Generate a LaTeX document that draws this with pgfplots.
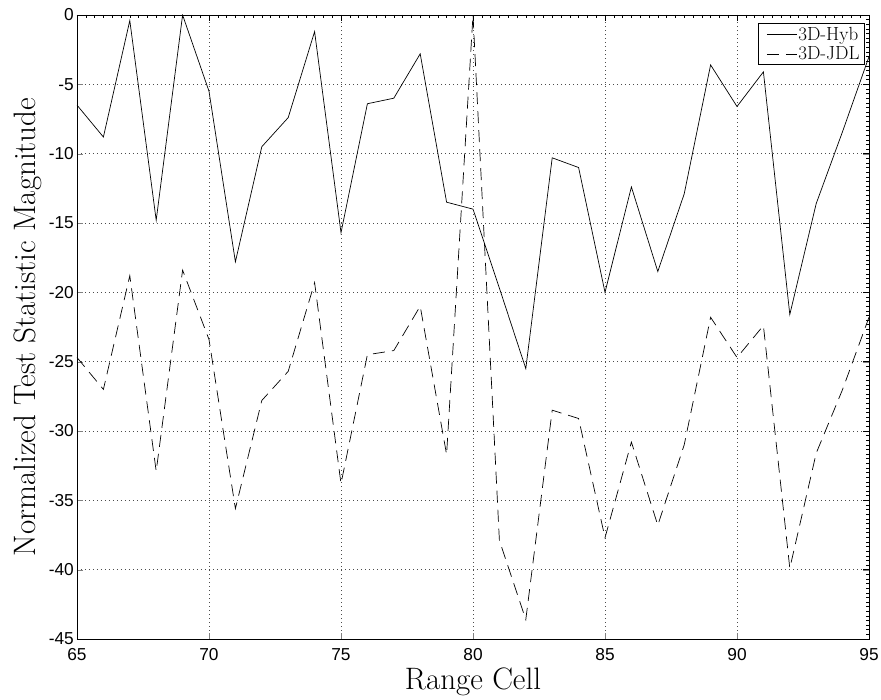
\documentclass[border=0pt]{standalone}
\usepackage{fontspec}
\setsansfont{Liberation Sans}
\usepackage{pgfplots}
\pgfplotsset{compat=1.18}
\begin{document}
\begin{tikzpicture}
\begin{axis}[
  scale only axis,
  width=792pt, height=624pt,
  xmin=65, xmax=95, ymin=-45, ymax=0,
  xtick={65,70,...,95}, ytick={-45,-40,...,0},
  tick align=inside,
  major tick length=6pt,
  grid=major,
  major grid style={black!70, line width=0.5pt, dash pattern=on 0.8pt off 3.2pt},
  axis line style={line width=0.9pt},
  /pgf/number format/assume math mode=true,
  ticklabel style={font=\sffamily\fontsize{17.3}{19}\selectfont},
  xticklabel style={inner sep=0pt, yshift=-9pt},
  yticklabel style={inner sep=0pt, xshift=-3pt},
  xlabel={Range Cell},
  ylabel={Normalized Test Statistic Magnitude},
  label style={font=\fontsize{31}{34}\selectfont, inner sep=0pt},
  xlabel style={at={(axis description cs:0.5,0)}, anchor=north, yshift=-29pt},
  ylabel style={at={(axis description cs:0,0.5)}, anchor=south, yshift=35pt},
  legend style={at={(1,1)}, anchor=north east, xshift=-4pt, yshift=-8pt,
    font=\fontsize{19}{21}\selectfont, draw=black, line width=0.9pt,
    inner xsep=4pt, inner ysep=3pt, row sep=4pt, column sep=0pt,
    nodes={inner xsep=1pt, inner ysep=0.5pt}, cells={anchor=west}},
  legend image code/.code={\path (0pt,0pt); \draw[#1, line width=0.7pt] (4pt,0pt) -- (34pt,0pt);},
]
\addplot[black, line width=0.7pt] coordinates {
(65,-6.5) (66,-8.8) (67,-0.4) (68,-14.8) (69,0) (70,-5.5) (71,-17.8) (72,-9.5)
(73,-7.4) (74,-1.2) (75,-15.7) (76,-6.4) (77,-6.0) (78,-2.8) (79,-13.5) (80,-14.0)
(81,-19.7) (82,-25.5) (83,-10.3) (84,-11.0) (85,-20.0) (86,-12.4) (87,-18.5) (88,-12.9)
(89,-3.6) (90,-6.6) (91,-4.1) (92,-21.6) (93,-13.6) (94,-8.4) (95,-3.0)
};
\addlegendentry{3D-Hyb}
\addplot[black, line width=0.7pt, dash pattern=on 12pt off 7pt] coordinates {
(65,-24.7) (66,-27.0) (67,-18.8) (68,-32.9) (69,-18.4) (70,-23.4) (71,-35.6) (72,-27.8)
(73,-25.7) (74,-19.3) (75,-33.8) (76,-24.5) (77,-24.2) (78,-21.0) (79,-31.7) (80,0)
(81,-37.9) (82,-43.6) (83,-28.5) (84,-29.1) (85,-37.7) (86,-30.8) (87,-36.8) (88,-31.0)
(89,-21.8) (90,-24.7) (91,-22.4) (92,-39.9) (93,-31.6) (94,-27.0) (95,-21.8)
};
\addlegendentry{3D-JDL}
\end{axis}
\begin{axis}[
  scale only axis,
  width=792pt, height=624pt,
  xmin=65, xmax=95, ymin=-45, ymax=0,
  axis x line*=top, axis y line*=right,
  axis line style={line width=0.9pt, -},
  xtick={65,70,...,95}, ytick={-45,-40,...,0},
  xticklabels={}, yticklabels={},
  minor x tick num=14, minor y tick num=14,
  tick align=inside,
  major tick length=6pt, minor tick length=3pt,
  tick style={black, line width=0.5pt},
]
\end{axis}
\path (current axis.south west) ++(-77pt,-61pt) rectangle ++(881pt,700pt);
\end{tikzpicture}
\end{document}
